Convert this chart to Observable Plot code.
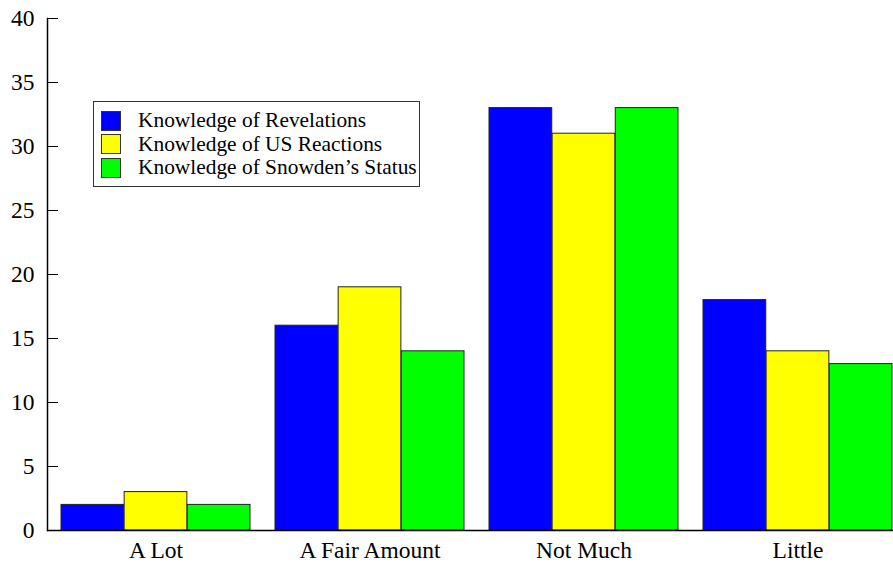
<!DOCTYPE html>
<html><head><meta charset="utf-8">
<script src="https://cdn.jsdelivr.net/npm/d3@7"></script>
<script src="https://cdn.jsdelivr.net/npm/@observablehq/plot@0.6"></script>
<style>
body{margin:0;background:#fff;}
#wrap{position:relative;width:893px;height:564px;overflow:hidden;font-family:'Liberation Serif',serif;}
#wrap svg{max-width:none !important;display:block;font-family:'Liberation Serif',serif !important;}
#wrap svg text{font-family:'Liberation Serif',serif !important;}
#legend{position:absolute;left:93px;top:101px;width:327px;height:86px;border:1px solid #333;background:#fff;box-sizing:border-box;padding:7px 0 0 7px;}
.row{display:flex;align-items:center;height:23.5px;font-size:21.4px;color:#000;font-family:'Liberation Serif',serif;white-space:nowrap;}
.sw{width:18px;height:18px;border:1px solid #333;margin-right:17px;flex:none;}
</style></head>
<body><div id="wrap"><div id="legend"></div></div>
<script>
const categories = ["A Lot", "A Fair Amount", "Not Much", "Little"];
const series = ["Knowledge of Revelations", "Knowledge of US Reactions", "Knowledge of Snowden\u2019s Status"];
const revelations = [2, 16, 33, 18];
const usReactions = [3, 19, 31, 14];
const snowdenStatus = [2, 14, 33, 13];
const colors = ["#0000ff", "#ffff00", "#00ff00"];
const yTicks = [0, 5, 10, 15, 20, 25, 30, 35, 40];

const values = [revelations, usReactions, snowdenStatus];
const data = series.map((s, i) => categories.map((c, j) => ({category: c, series: s, value: values[i][j]})));

const W = 905, ML = 47, pInner = 0.117;
const step = (W - ML) / categories.length;
const bw = step * (1 - pInner);
const third = bw / 3;

const marks = data.map((d, i) => Plot.barY(d, {
  x: "category", y: "value", fill: colors[i], stroke: "#222", strokeWidth: 1,
  insetLeft: third * i, insetRight: third * (2 - i)
}));

const chart = Plot.plot({
  width: W, height: 564,
  marginLeft: ML, marginRight: 0, marginTop: 18, marginBottom: 34,
  style: "font-family: 'Liberation Serif', serif; font-size: 23.5px; background: #fff; max-width: none;",
  x: {domain: categories, paddingInner: pInner, paddingOuter: pInner / 2, label: null},
  y: {domain: [0, 40], label: null},
  marks: [
    ...marks,
    Plot.ruleY([0], {stroke: "#000", strokeWidth: 1.5}),
    Plot.frame({anchor: "left", stroke: "#000", strokeWidth: 1.5}),
    Plot.axisY(yTicks, {tickSize: -11, tickPadding: 24, fontSize: 23.5, stroke: "#000", fill: "#000"}),
    Plot.axisX({tickSize: 0, tickPadding: 11, fontSize: 23.5, fill: "#000"})
  ]
});
const wrap = document.getElementById("wrap");
wrap.insertBefore(chart, wrap.firstChild);

const legend = document.getElementById("legend");
series.forEach((s, i) => {
  const r = document.createElement("div"); r.className = "row";
  const sw = document.createElement("div"); sw.className = "sw"; sw.style.background = colors[i];
  const t = document.createElement("span"); t.textContent = s;
  r.appendChild(sw); r.appendChild(t); legend.appendChild(r);
});
</script></body></html>
